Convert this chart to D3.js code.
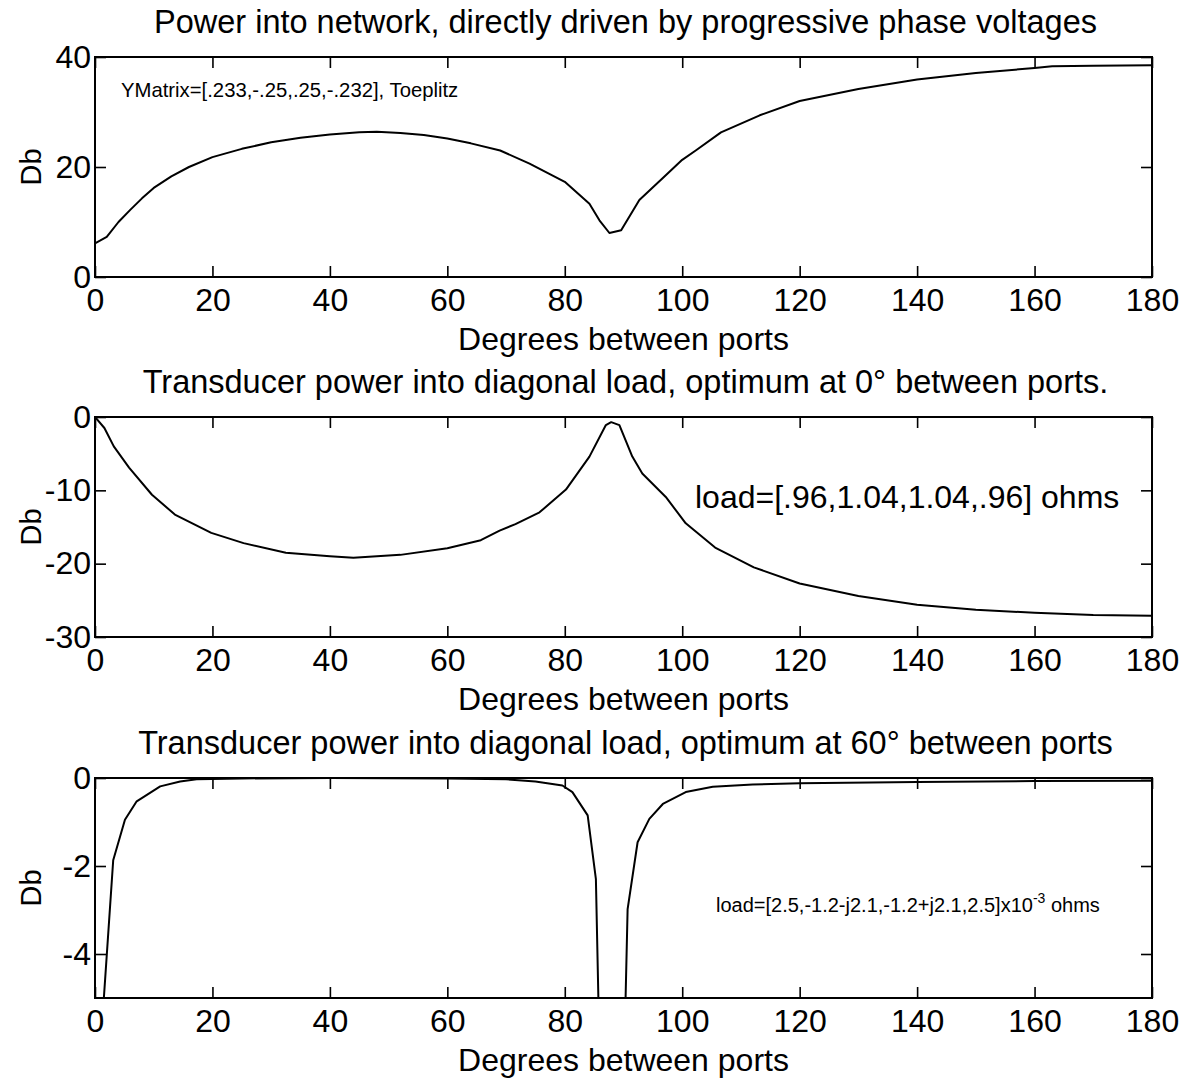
<!DOCTYPE html>
<html>
<head>
<meta charset="utf-8">
<script src="https://cdn.jsdelivr.net/npm/d3@7"></script>
<style>
  body { margin: 0; background: #fff; }
  svg { display: block; }
  text { font-family: "Liberation Sans", Arial, sans-serif; fill: #000; }
</style>
</head>
<body>
<svg id="chart" width="1190" height="1078"></svg>
<script>
// Data: [degrees between ports, dB]
const powerNetwork = [
  [0, 6.1], [2, 7.3], [4, 10], [6, 12.2], [8, 14.3], [10, 16.2], [13, 18.3], [16, 20],
  [20, 21.8], [25, 23.3], [30, 24.5], [35, 25.3], [40, 25.9], [45, 26.3], [48, 26.4],
  [52, 26.2], [56, 25.8], [60, 25.2], [64, 24.3], [69, 23], [74, 20.6], [80, 17.3],
  [84.2, 13.3], [85.9, 10.3], [87.6, 8.0], [89.6, 8.5], [92.7, 14], [97.2, 18.5],
  [100, 21.3], [102.3, 23], [106.6, 26.3], [113.2, 29.4], [120, 32], [130, 34.2],
  [140, 35.9], [150, 37.1], [160, 38], [163, 38.3], [170, 38.4], [180, 38.5]
];

const transducerOpt0 = [
  [0, 0], [1.6, -1.5], [3.2, -4], [5.8, -6.9], [9.7, -10.6], [13.6, -13.3], [19.8, -15.8],
  [25.3, -17.2], [32.5, -18.5], [40, -19], [44, -19.2], [52, -18.8], [60, -17.9],
  [65.7, -16.8], [68.9, -15.5], [71.6, -14.6], [75.7, -13], [80.2, -9.9], [84.2, -5.4],
  [87, -1.1], [87.9, -0.7], [89.3, -1.1], [91.5, -5.4], [93.2, -7.7], [97.2, -10.9],
  [100.6, -14.5], [105.6, -17.8], [112.2, -20.5], [120, -22.7], [130, -24.4],
  [140, -25.6], [150, -26.3], [160, -26.7], [170, -27], [180, -27.1]
];

const transducerOpt60 = [
  [1, -6], [3.1, -1.87], [5.1, -0.95], [7.1, -0.53], [11.1, -0.19], [14.5, -0.08],
  [17.3, -0.03], [25, -0.01], [40, 0], [60, -0.01], [70, -0.03], [75, -0.08],
  [79.6, -0.17], [81.3, -0.32], [83.9, -0.85], [85.3, -2.3], [86.5, -10], [89.5, -10],
  [90.7, -2.98], [92.4, -1.46], [94.4, -0.93], [96.7, -0.59], [100.6, -0.32],
  [105.2, -0.2], [112, -0.15], [120, -0.12], [140, -0.09], [160, -0.07], [180, -0.06]
];

const xTicks = [0, 20, 40, 60, 80, 100, 120, 140, 160, 180];
const yTicks1 = [0, 20, 40];
const yTicks2 = [0, -10, -20, -30];
const yTicks3 = [0, -2, -4];

const titles = [
  "Power into network, directly driven by progressive phase voltages",
  "Transducer power into diagonal load, optimum at 0\u00b0 between ports.",
  "Transducer power into diagonal load, optimum at 60\u00b0 between ports"
];
const xLabel = "Degrees between ports";
const yLabel = "Db";

// panel layout
const left = 95, right = 1152, plotH = 220;
const panels = [
  { top: 57,  data: powerNetwork,    yDomain: [0, 40],   yTicks: yTicks1, title: titles[0] },
  { top: 417, data: transducerOpt0,  yDomain: [-30, 0],  yTicks: yTicks2, title: titles[1] },
  { top: 778, data: transducerOpt60, yDomain: [-5, 0],   yTicks: yTicks3, title: titles[2] }
];

const svg = d3.select("#chart");
const x = d3.scaleLinear().domain([0, 180]).range([left, right]);
const tickLen = 11;
const plain = d => String(d);   // hyphen minus, no decimals, like the original

panels.forEach((p, i) => {
  const bottom = p.top + plotH;
  const y = d3.scaleLinear().domain(p.yDomain).range([bottom, p.top]);
  const g = svg.append("g");

  // clip so the curve stays inside the box
  svg.append("clipPath").attr("id", "clip" + i)
    .append("rect").attr("x", left).attr("y", p.top)
    .attr("width", right - left).attr("height", plotH);

  // ticks inward on all four sides, labels only bottom/left
  g.append("g").attr("transform", `translate(0,${bottom})`)
    .call(d3.axisBottom(x).tickValues(xTicks).tickFormat(plain).tickSizeInner(-tickLen).tickSizeOuter(0).tickPadding(11));
  g.append("g").attr("transform", `translate(0,${p.top})`)
    .call(d3.axisTop(x).tickValues(xTicks).tickSizeInner(-tickLen).tickSizeOuter(0).tickFormat(""));
  g.append("g").attr("transform", `translate(${left},0)`)
    .call(d3.axisLeft(y).tickValues(p.yTicks).tickFormat(plain).tickSizeInner(-tickLen).tickSizeOuter(0).tickPadding(4));
  g.append("g").attr("transform", `translate(${right},0)`)
    .call(d3.axisRight(y).tickValues(p.yTicks).tickSizeInner(-tickLen).tickSizeOuter(0).tickFormat(""));

  g.selectAll(".tick line").attr("stroke", "#000").attr("stroke-width", 1.6);
  g.selectAll(".domain").remove();
  g.selectAll(".tick text")
    .style("font-family", "'Liberation Sans', Arial, sans-serif")
    .style("font-size", "32px").attr("fill", "#000");

  // box
  g.append("rect")
    .attr("x", left).attr("y", p.top)
    .attr("width", right - left).attr("height", plotH)
    .attr("fill", "none").attr("stroke", "#000").attr("stroke-width", 2);

  // curve
  const line = d3.line().x(d => x(d[0])).y(d => y(d[1]));
  g.append("path")
    .datum(p.data)
    .attr("clip-path", `url(#clip${i})`)
    .attr("fill", "none").attr("stroke", "#000").attr("stroke-width", 2)
    .attr("stroke-linejoin", "round")
    .attr("d", line);

  // title
  g.append("text")
    .attr("x", (left + right) / 2 + 2).attr("y", p.top - 24)
    .attr("text-anchor", "middle").style("font-size", "32.5px")
    .text(p.title);

  // x label
  g.append("text")
    .attr("x", (left + right) / 2).attr("y", bottom + 73)
    .attr("text-anchor", "middle").style("font-size", "32px")
    .text(xLabel);

  // y label
  g.append("text")
    .attr("transform", `translate(41,${p.top + plotH / 2}) rotate(-90)`)
    .attr("text-anchor", "middle").style("font-size", "29px")
    .text(yLabel);
});

// annotations
svg.append("text")
  .attr("x", 121).attr("y", 97).style("font-size", "20.3px")
  .text("YMatrix=[.233,-.25,.25,-.232], Toeplitz");

svg.append("text")
  .attr("x", 695).attr("y", 508).style("font-size", "32px")
  .text("load=[.96,1.04,1.04,.96] ohms");

const note3 = svg.append("text")
  .attr("x", 716).attr("y", 912).style("font-size", "20px");
note3.append("tspan").text("load=[2.5,-1.2-j2.1,-1.2+j2.1,2.5]x10");
note3.append("tspan").attr("dy", -9).style("font-size", "14px").text("-3");
note3.append("tspan").attr("dy", 9).text(" ohms");
</script>
</body>
</html>
